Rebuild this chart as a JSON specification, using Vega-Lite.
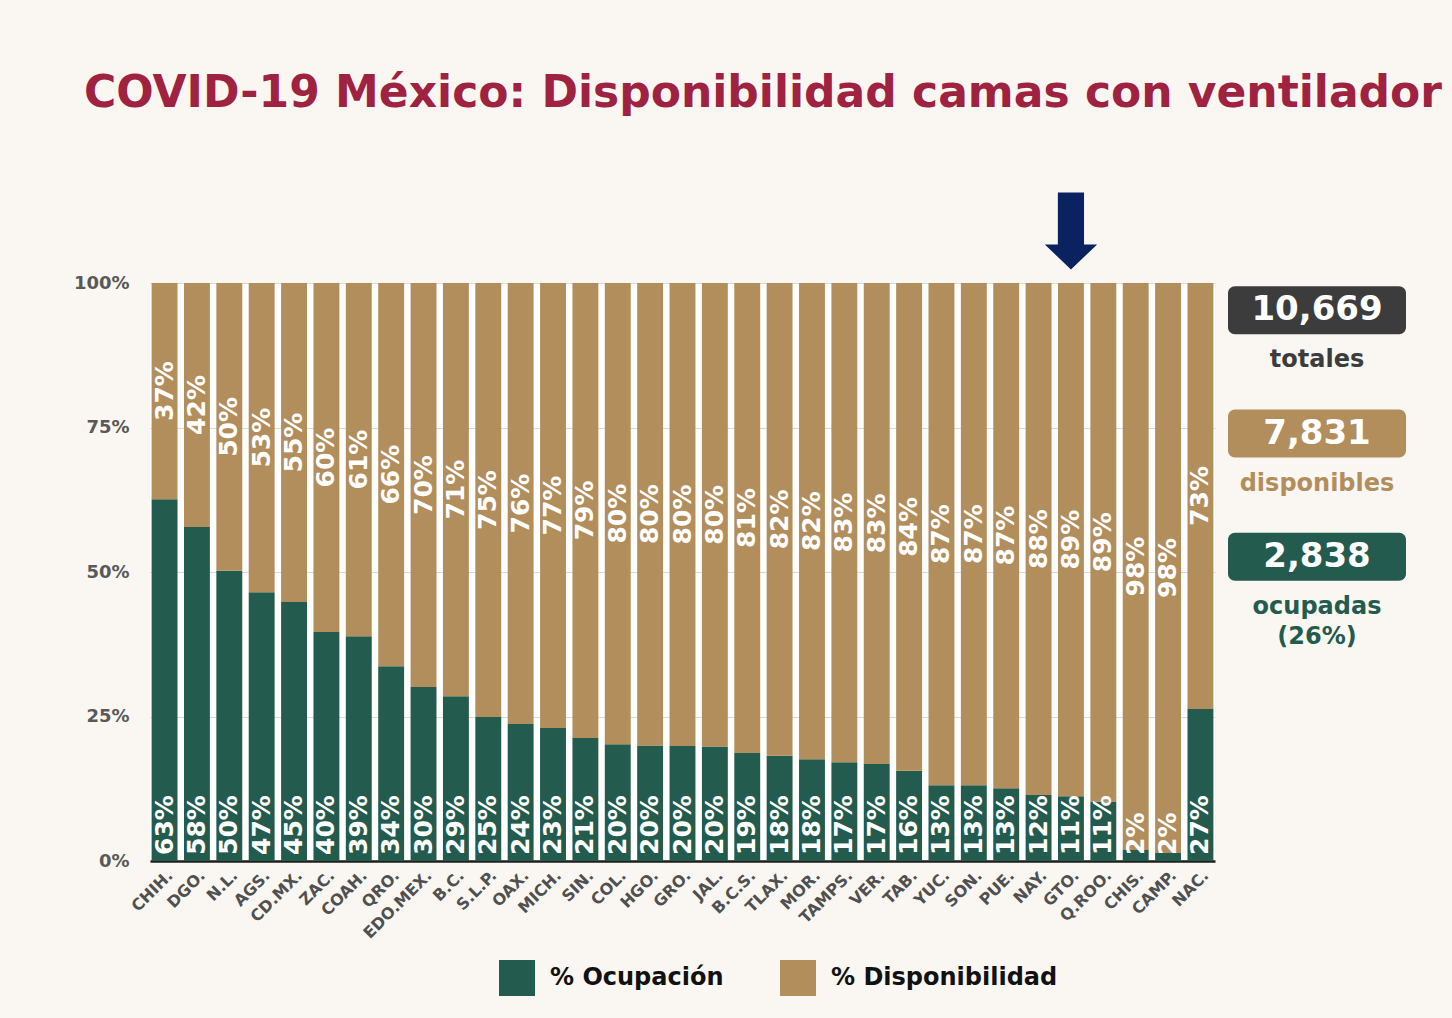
{
  "$schema": "https://vega.github.io/schema/vega-lite/v6.json",
  "autosize": {"type": "none"},
  "padding": {"left": 150, "top": 283, "right": 1302, "bottom": 735},
  "background": "#FAF7F2",
  "title": {
    "text": "COVID-19 México: Disponibilidad camas con ventilador",
    "anchor": "start",
    "frame": "group",
    "dx": -66,
    "offset": 76,
    "fontSize": 44,
    "font": "DejaVu Sans",
    "fontWeight": "bold",
    "color": "#9F2241"
  },
  "datasets": {
    "camas": [
      {"estado": "CHIH.", "serie": "% Ocupación", "valor": 62.6, "etiqueta": "63%"},
      {"estado": "CHIH.", "serie": "% Disponibilidad", "valor": 37.4, "etiqueta": "37%"},
      {"estado": "DGO.", "serie": "% Ocupación", "valor": 57.8, "etiqueta": "58%"},
      {"estado": "DGO.", "serie": "% Disponibilidad", "valor": 42.2, "etiqueta": "42%"},
      {"estado": "N.L.", "serie": "% Ocupación", "valor": 50.2, "etiqueta": "50%"},
      {"estado": "N.L.", "serie": "% Disponibilidad", "valor": 49.8, "etiqueta": "50%"},
      {"estado": "AGS.", "serie": "% Ocupación", "valor": 46.5, "etiqueta": "47%"},
      {"estado": "AGS.", "serie": "% Disponibilidad", "valor": 53.5, "etiqueta": "53%"},
      {"estado": "CD.MX.", "serie": "% Ocupación", "valor": 44.8, "etiqueta": "45%"},
      {"estado": "CD.MX.", "serie": "% Disponibilidad", "valor": 55.2, "etiqueta": "55%"},
      {"estado": "ZAC.", "serie": "% Ocupación", "valor": 39.6, "etiqueta": "40%"},
      {"estado": "ZAC.", "serie": "% Disponibilidad", "valor": 60.4, "etiqueta": "60%"},
      {"estado": "COAH.", "serie": "% Ocupación", "valor": 38.9, "etiqueta": "39%"},
      {"estado": "COAH.", "serie": "% Disponibilidad", "valor": 61.1, "etiqueta": "61%"},
      {"estado": "QRO.", "serie": "% Ocupación", "valor": 33.7, "etiqueta": "34%"},
      {"estado": "QRO.", "serie": "% Disponibilidad", "valor": 66.3, "etiqueta": "66%"},
      {"estado": "EDO.MEX.", "serie": "% Ocupación", "valor": 30.1, "etiqueta": "30%"},
      {"estado": "EDO.MEX.", "serie": "% Disponibilidad", "valor": 69.9, "etiqueta": "70%"},
      {"estado": "B.C.", "serie": "% Ocupación", "valor": 28.5, "etiqueta": "29%"},
      {"estado": "B.C.", "serie": "% Disponibilidad", "valor": 71.5, "etiqueta": "71%"},
      {"estado": "S.L.P.", "serie": "% Ocupación", "valor": 24.9, "etiqueta": "25%"},
      {"estado": "S.L.P.", "serie": "% Disponibilidad", "valor": 75.1, "etiqueta": "75%"},
      {"estado": "OAX.", "serie": "% Ocupación", "valor": 23.7, "etiqueta": "24%"},
      {"estado": "OAX.", "serie": "% Disponibilidad", "valor": 76.3, "etiqueta": "76%"},
      {"estado": "MICH.", "serie": "% Ocupación", "valor": 23.0, "etiqueta": "23%"},
      {"estado": "MICH.", "serie": "% Disponibilidad", "valor": 77.0, "etiqueta": "77%"},
      {"estado": "SIN.", "serie": "% Ocupación", "valor": 21.3, "etiqueta": "21%"},
      {"estado": "SIN.", "serie": "% Disponibilidad", "valor": 78.7, "etiqueta": "79%"},
      {"estado": "COL.", "serie": "% Ocupación", "valor": 20.2, "etiqueta": "20%"},
      {"estado": "COL.", "serie": "% Disponibilidad", "valor": 79.8, "etiqueta": "80%"},
      {"estado": "HGO.", "serie": "% Ocupación", "valor": 20.0, "etiqueta": "20%"},
      {"estado": "HGO.", "serie": "% Disponibilidad", "valor": 80.0, "etiqueta": "80%"},
      {"estado": "GRO.", "serie": "% Ocupación", "valor": 19.9, "etiqueta": "20%"},
      {"estado": "GRO.", "serie": "% Disponibilidad", "valor": 80.1, "etiqueta": "80%"},
      {"estado": "JAL.", "serie": "% Ocupación", "valor": 19.8, "etiqueta": "20%"},
      {"estado": "JAL.", "serie": "% Disponibilidad", "valor": 80.2, "etiqueta": "80%"},
      {"estado": "B.C.S.", "serie": "% Ocupación", "valor": 18.7, "etiqueta": "19%"},
      {"estado": "B.C.S.", "serie": "% Disponibilidad", "valor": 81.3, "etiqueta": "81%"},
      {"estado": "TLAX.", "serie": "% Ocupación", "valor": 18.2, "etiqueta": "18%"},
      {"estado": "TLAX.", "serie": "% Disponibilidad", "valor": 81.8, "etiqueta": "82%"},
      {"estado": "MOR.", "serie": "% Ocupación", "valor": 17.6, "etiqueta": "18%"},
      {"estado": "MOR.", "serie": "% Disponibilidad", "valor": 82.4, "etiqueta": "82%"},
      {"estado": "TAMPS.", "serie": "% Ocupación", "valor": 17.1, "etiqueta": "17%"},
      {"estado": "TAMPS.", "serie": "% Disponibilidad", "valor": 82.9, "etiqueta": "83%"},
      {"estado": "VER.", "serie": "% Ocupación", "valor": 16.8, "etiqueta": "17%"},
      {"estado": "VER.", "serie": "% Disponibilidad", "valor": 83.2, "etiqueta": "83%"},
      {"estado": "TAB.", "serie": "% Ocupación", "valor": 15.6, "etiqueta": "16%"},
      {"estado": "TAB.", "serie": "% Disponibilidad", "valor": 84.4, "etiqueta": "84%"},
      {"estado": "YUC.", "serie": "% Ocupación", "valor": 13.1, "etiqueta": "13%"},
      {"estado": "YUC.", "serie": "% Disponibilidad", "valor": 86.9, "etiqueta": "87%"},
      {"estado": "SON.", "serie": "% Ocupación", "valor": 13.1, "etiqueta": "13%"},
      {"estado": "SON.", "serie": "% Disponibilidad", "valor": 86.9, "etiqueta": "87%"},
      {"estado": "PUE.", "serie": "% Ocupación", "valor": 12.6, "etiqueta": "13%"},
      {"estado": "PUE.", "serie": "% Disponibilidad", "valor": 87.4, "etiqueta": "87%"},
      {"estado": "NAY.", "serie": "% Ocupación", "valor": 11.4, "etiqueta": "12%"},
      {"estado": "NAY.", "serie": "% Disponibilidad", "valor": 88.6, "etiqueta": "88%"},
      {"estado": "GTO.", "serie": "% Ocupación", "valor": 11.2, "etiqueta": "11%"},
      {"estado": "GTO.", "serie": "% Disponibilidad", "valor": 88.8, "etiqueta": "89%"},
      {"estado": "Q.ROO.", "serie": "% Ocupación", "valor": 10.3, "etiqueta": "11%"},
      {"estado": "Q.ROO.", "serie": "% Disponibilidad", "valor": 89.7, "etiqueta": "89%"},
      {"estado": "CHIS.", "serie": "% Ocupación", "valor": 1.9, "etiqueta": "2%"},
      {"estado": "CHIS.", "serie": "% Disponibilidad", "valor": 98.1, "etiqueta": "98%"},
      {"estado": "CAMP.", "serie": "% Ocupación", "valor": 1.4, "etiqueta": "2%"},
      {"estado": "CAMP.", "serie": "% Disponibilidad", "valor": 98.6, "etiqueta": "98%"},
      {"estado": "NAC.", "serie": "% Ocupación", "valor": 26.3, "etiqueta": "27%"},
      {"estado": "NAC.", "serie": "% Disponibilidad", "valor": 73.7, "etiqueta": "73%"}
    ],
    "resumen": [
      {"grupo": "totales", "numero": "10,669", "texto": ["totales"]},
      {"grupo": "disponibles", "numero": "7,831", "texto": ["disponibles"]},
      {"grupo": "ocupadas", "numero": "2,838", "texto": ["ocupadas", "(26%)"]}
    ]
  },
  "bounds": "flush",
  "spacing": 13,
  "hconcat": [
    {
      "width": 1065,
      "height": 578,
      "view": {"fill": "#FEFEFD", "stroke": null},
      "data": {"name": "camas"},
      "encoding": {
        "x": {
          "field": "estado",
          "type": "nominal",
          "sort": null,
          "scale": {"paddingInner": 0.2, "paddingOuter": 0.05},
          "axis": {
            "title": null,
            "labelAngle": -45,
            "labelFontSize": 16,
            "labelFont": "DejaVu Sans",
            "labelFontWeight": "bold",
            "labelColor": "#505050",
            "ticks": false,
            "labelPadding": 6,
            "labelLimit": 0,
            "domainColor": "#1E1E1E",
            "domainWidth": 2.5
          }
        }
      },
      "layer": [
        {
          "mark": {"type": "bar"},
          "encoding": {
            "y": {
              "field": "valor",
              "type": "quantitative",
              "stack": "zero",
              "scale": {"domain": [0, 100]},
              "axis": {
                "title": null,
                "values": [0, 25, 50, 75, 100],
                "labelExpr": "datum.value + '%'",
                "domain": false,
                "ticks": false,
                "labelFontSize": 18,
                "labelFont": "DejaVu Sans",
                "labelFontWeight": "bold",
                "labelColor": "#595959",
                "labelPadding": 21,
                "gridColor": "#D9D9D9",
                "gridWidth": 1
              }
            },
            "color": {
              "field": "serie",
              "type": "nominal",
              "scale": {"domain": ["% Ocupación", "% Disponibilidad"], "range": ["#235B4E", "#B38E5D"]},
              "legend": {
                "title": null,
                "orient": "none",
                "legendX": 349,
                "legendY": 677,
                "direction": "horizontal",
                "symbolType": "square",
                "symbolSize": 1296,
                "symbolStrokeWidth": 0,
                "symbolOpacity": 1,
                "labelFontSize": 24,
                "labelFont": "DejaVu Sans",
                "labelFontWeight": "bold",
                "labelColor": "#111111",
                "labelOffset": 15,
                "labelLimit": 0,
                "columnPadding": 56,
                "padding": 0
              }
            },
            "order": {"field": "serie", "sort": "descending"}
          }
        },
        {
          "transform": [{"filter": "datum.serie === '% Ocupación'"}],
          "mark": {
            "type": "text",
            "angle": 270,
            "align": "left",
            "baseline": "middle",
            "dx": 6,
            "fontSize": 25,
            "font": "DejaVu Sans",
            "fontWeight": "bold",
            "color": "#FFFFFF"
          },
          "encoding": {
            "y": {"datum": 0, "type": "quantitative"},
            "text": {"field": "etiqueta"}
          }
        },
        {
          "transform": [
            {"stack": "valor", "groupby": ["estado"], "sort": [{"field": "serie", "order": "descending"}], "as": ["v0", "v1"]},
            {"filter": "datum.serie === '% Disponibilidad'"},
            {"fold": ["v0", "v1"], "as": ["extremo", "pos"]}
          ],
          "mark": {
            "type": "text",
            "angle": 270,
            "align": "center",
            "baseline": "middle",
            "fontSize": 25,
            "font": "DejaVu Sans",
            "fontWeight": "bold",
            "color": "#FFFFFF"
          },
          "encoding": {
            "y": {"field": "pos", "type": "quantitative", "aggregate": "mean"},
            "text": {"field": "etiqueta", "type": "nominal"}
          }
        },
        {
          "transform": [{"filter": "datum.estado === 'GTO.' && datum.serie === '% Ocupación'"}],
          "mark": {
            "type": "point",
            "shape": "M-0.34,-1L0.34,-1L0.34,0.35L0.68,0.35L0,1L-0.68,0.35L-0.34,0.35Z",
            "filled": true,
            "size": 5929,
            "color": "#0B2260",
            "opacity": 1,
            "strokeWidth": 0
          },
          "encoding": {
            "y": {"datum": 109, "type": "quantitative"}
          }
        }
      ]
    },
    {
      "width": 178,
      "height": 301,
      "view": {"stroke": null},
      "data": {"name": "resumen"},
      "encoding": {
        "y": {
          "field": "grupo",
          "type": "nominal",
          "sort": null,
          "scale": {"type": "point", "padding": 0.22},
          "axis": null
        }
      },
      "layer": [
        {
          "mark": {"type": "bar", "height": 48, "cornerRadius": 7},
          "encoding": {
            "fill": {
              "field": "grupo",
              "type": "nominal",
              "scale": {"domain": ["totales", "disponibles", "ocupadas"], "range": ["#3C3C3C", "#B38E5D", "#235B4E"]},
              "legend": null
            }
          }
        },
        {
          "mark": {
            "type": "text",
            "align": "center",
            "baseline": "middle",
            "fontSize": 34,
            "font": "DejaVu Sans",
            "fontWeight": "bold",
            "color": "#FFFFFF"
          },
          "encoding": {"text": {"field": "numero"}}
        },
        {
          "mark": {
            "type": "text",
            "align": "center",
            "baseline": "alphabetic",
            "dy": 57,
            "lineHeight": 30,
            "fontSize": 24,
            "font": "DejaVu Sans",
            "fontWeight": "bold"
          },
          "encoding": {
            "text": {"field": "texto"},
            "fill": {
              "field": "grupo",
              "type": "nominal",
              "scale": {"domain": ["totales", "disponibles", "ocupadas"], "range": ["#3C3C3C", "#B38E5D", "#235B4E"]},
              "legend": null
            }
          }
        }
      ]
    }
  ],
  "config": {
    "view": {"stroke": null},
    "font": "DejaVu Sans"
  }
}
